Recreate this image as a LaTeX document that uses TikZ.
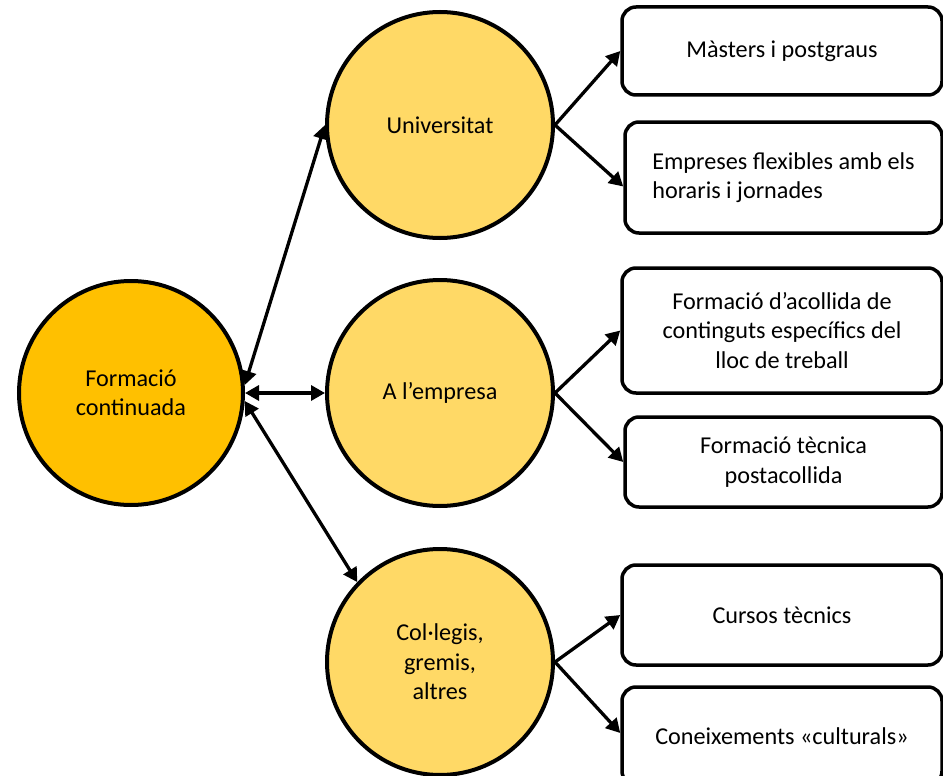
\documentclass[tikz,border=0pt]{standalone}
\usepackage{fontspec}
\setmainfont{Carlito}
\usetikzlibrary{arrows.meta,calc}
\definecolor{gold}{HTML}{FFC000}
\definecolor{lightgold}{HTML}{FFD966}

\begin{document}
\begin{tikzpicture}[x=1pt,y=-1pt,
  every node/.style={font=\fontsize{24.2}{29.5}\selectfont},
  hub/.style={circle, draw, line width=4pt, minimum size=226pt, inner sep=0pt, align=center},
  card/.style={draw, line width=3.5pt, rounded corners=14pt, minimum width=320pt, inner sep=0pt, align=center},
  link/.style={line width=3.3pt, -{Triangle[length=14pt,width=15pt]}},
  duplex/.style={line width=3.3pt, {Triangle[length=14pt,width=15pt]}-{Triangle[length=14pt,width=15pt]}}
]
\useasboundingbox (0,0) rectangle (943,776);
\clip (0,0) rectangle (943,776);

% central topic and the three channels
\node[hub, fill=gold, minimum size=224pt] (fc) at (131,393) {Formació\\continuada};
\node[hub, fill=lightgold] (uni) at (440,125) {Universitat};
\node[hub, fill=lightgold] (emp) at (440,393) {A l’empresa};
\node[hub, fill=lightgold] (col) at (440,662) {Col·legis,\\gremis,\\altres};

% detail boxes
\node[card, minimum height=88pt] (b1) at (782,51) {Màsters i postgraus};
\node[card, minimum width=317pt, minimum height=111pt, align=left] (b2) at (783.5,177.5) {Empreses flexibles amb els\\horaris i jornades};
\node[card, minimum height=125pt] (b3) at (782,330.5) {Formació d’acollida de\\continguts específics del\\lloc de treball};
\node[card, minimum width=317pt, minimum height=90pt] (b4) at (783.5,462) {Formació tècnica\\postacollida};
\node[card, minimum height=100pt] (b5) at (782,615) {Cursos tècnics};
\node[card, minimum height=98pt] (b6) at (782,736) {Coneixements «culturals»};

% connectors
\draw[duplex] (fc.4) -- (uni.west);
\draw[duplex] (fc.east) -- (emp.west);
\draw[duplex] (fc.-4) -- (col.136);
\draw[link] (uni.east) -- (b1.west);
\draw[link] (uni.east) -- ($(b2.west)+(0,9)$);
\draw[link] (emp.east) -- (b3.west);
\draw[link] (emp.east) -- (b4.west);
\draw[link] (col.east) -- (b5.west);
\draw[link] (col.east) -- ($(b6.west)+(0,-3)$);
\end{tikzpicture}
\end{document}
